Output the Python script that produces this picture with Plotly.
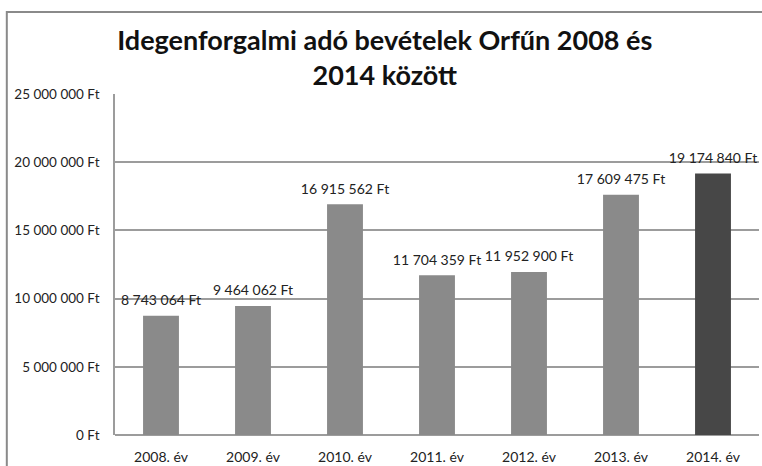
import plotly.graph_objects as go

categories = ["2008. év", "2009. év", "2010. év", "2011. év", "2012. év", "2013. év", "2014. év"]
values = [8743064, 9464062, 16915562, 11704359, 11952900, 17609475, 19174840]
bar_colors = ["#8a8a8a"] * 6 + ["#474747"]
y_ticks = [0, 5000000, 10000000, 15000000, 20000000, 25000000]

FONT = "Lato, Open Sans, sans-serif"


def fmt(v):
    return f"{v:,}".replace(",", " ") + " Ft"


fig = go.Figure()
fig.add_trace(go.Bar(
    x=categories,
    y=values,
    marker=dict(color=bar_colors, line=dict(width=0)),
    width=0.39,
    hoverinfo="x+y",
))
fig.add_trace(go.Scatter(
    x=categories,
    y=values,
    mode="markers+text",
    marker=dict(size=10, color="rgba(0,0,0,0)"),
    text=[fmt(v) for v in values],
    textposition="top center",
    cliponaxis=False,
    textfont=dict(family=FONT, size=14, color="#222222"),
    hoverinfo="skip",
))

fig.update_layout(
    width=762,
    height=466,
    paper_bgcolor="white",
    plot_bgcolor="white",
    margin=dict(l=115, r=3, t=94, b=31),
    showlegend=False,
    title=dict(
        text="<b>Idegenforgalmi adó bevételek Orfűn 2008 és<br>2014 között</b>",
        x=0.505,
        xanchor="center",
        y=0.892,
        yanchor="middle",
        font=dict(family=FONT, size=27, color="#111111"),
    ),
    xaxis=dict(
        showgrid=False,
        showline=False,
        ticks="",
        automargin=False,
        ticklabelstandoff=12,
        tickfont=dict(family=FONT, size=14, color="#222222"),
    ),
    yaxis=dict(
        range=[0, 25000000],
        tickvals=y_ticks,
        ticktext=[fmt(v) for v in y_ticks],
        showgrid=True,
        gridcolor="#9c9c9c",
        gridwidth=1.6,
        zeroline=True,
        zerolinecolor="#9c9c9c",
        zerolinewidth=1.6,
        showline=True,
        linecolor="#9c9c9c",
        linewidth=1.6,
        ticks="",
        automargin=False,
        ticklabelstandoff=11,
        tickfont=dict(family=FONT, size=13.5, color="#222222"),
    ),
    shapes=[
        dict(type="rect", xref="paper", yref="paper",
             x0=-0.168, x1=1.2, y0=-0.3, y1=1.2405,
             line=dict(color="#8a8a8a", width=2), fillcolor="rgba(0,0,0,0)", layer="below"),
    ],
)

fig.write_html(
    "out.html",
    config={"displayModeBar": False},
    post_script="document.body.style.margin='0';document.body.style.overflow='hidden';",
)
